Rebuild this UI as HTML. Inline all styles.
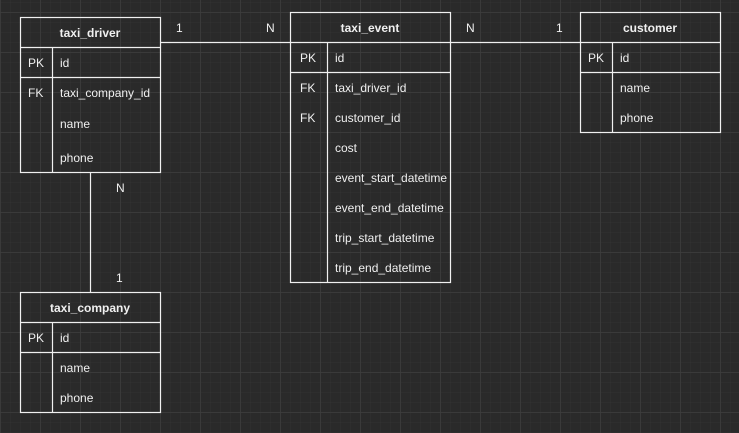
<!DOCTYPE html>
<html><head><meta charset="utf-8"><style>
html,body{margin:0;padding:0;background:#2a2a2a;}
svg{display:block;}
text{font-family:"Liberation Sans",Arial,sans-serif;font-size:12px;fill:#f0f0f0;}
.h{font-weight:bold;}
</style></head><body>
<svg width="739" height="433" xmlns="http://www.w3.org/2000/svg">
<defs>
<pattern id="mi" width="10" height="10" patternUnits="userSpaceOnUse" x="0.5" y="2.5"><path d="M10 0V10M0 10H10" stroke="#333" stroke-width="1" fill="none"/></pattern>
<pattern id="ma" width="40" height="40" patternUnits="userSpaceOnUse" x="0.5" y="12.5"><path d="M0 0V40M0 0H40" stroke="#404040" stroke-width="1" fill="none"/></pattern>
</defs>
<rect width="739" height="433" fill="#2a2a2a"/>
<rect width="739" height="433" fill="url(#mi)"/>
<rect width="739" height="433" fill="url(#ma)"/>
<g stroke="#f0f0f0" stroke-width="1.2" fill="none">
<path d="M160.5 42.5H290.5M450.5 42.5H580.5M90.5 172.5V292.5"/>
<rect x="20.5" y="17.5" width="140" height="155"/>
<path d="M20.5 47.5H160.5M20.5 77.5H160.5M52.5 47.5V172.5"/>
<rect x="290.5" y="12.5" width="160" height="270"/>
<path d="M290.5 42.5H450.5M290.5 72.5H450.5M327.5 42.5V282.5"/>
<rect x="580.5" y="12.5" width="140" height="120"/>
<path d="M580.5 42.5H720.5M580.5 72.5H720.5M612.5 42.5V132.5"/>
<rect x="20.5" y="292.5" width="140" height="120"/>
<path d="M20.5 322.5H160.5M20.5 352.5H160.5M52.5 322.5V412.5"/>
</g>
<text x="176" y="32">1</text><text x="266" y="32">N</text>
<text x="466" y="32">N</text><text x="556" y="32">1</text>
<text x="116" y="192">N</text><text x="116" y="282">1</text>

<text class="h" x="90" y="37" text-anchor="middle">taxi_driver</text>
<text x="28" y="67">PK</text><text x="60" y="67">id</text>
<text x="28" y="97">FK</text><text x="60" y="97">taxi_company_id</text>
<text x="60" y="128">name</text>
<text x="60" y="162">phone</text>

<text class="h" x="370" y="32" text-anchor="middle">taxi_event</text>
<text x="300" y="62">PK</text><text x="335" y="62">id</text>
<text x="300" y="92">FK</text><text x="335" y="92">taxi_driver_id</text>
<text x="300" y="122">FK</text><text x="335" y="122">customer_id</text>
<text x="335" y="152">cost</text>
<text x="335" y="182">event_start_datetime</text>
<text x="335" y="212">event_end_datetime</text>
<text x="335" y="242">trip_start_datetime</text>
<text x="335" y="272">trip_end_datetime</text>

<text class="h" x="650" y="32" text-anchor="middle">customer</text>
<text x="588" y="62">PK</text><text x="620" y="62">id</text>
<text x="620" y="92">name</text>
<text x="620" y="122">phone</text>

<text class="h" x="90" y="312" text-anchor="middle">taxi_company</text>
<text x="28" y="342">PK</text><text x="60" y="342">id</text>
<text x="60" y="372">name</text>
<text x="60" y="402">phone</text>
</svg>
</body></html>
